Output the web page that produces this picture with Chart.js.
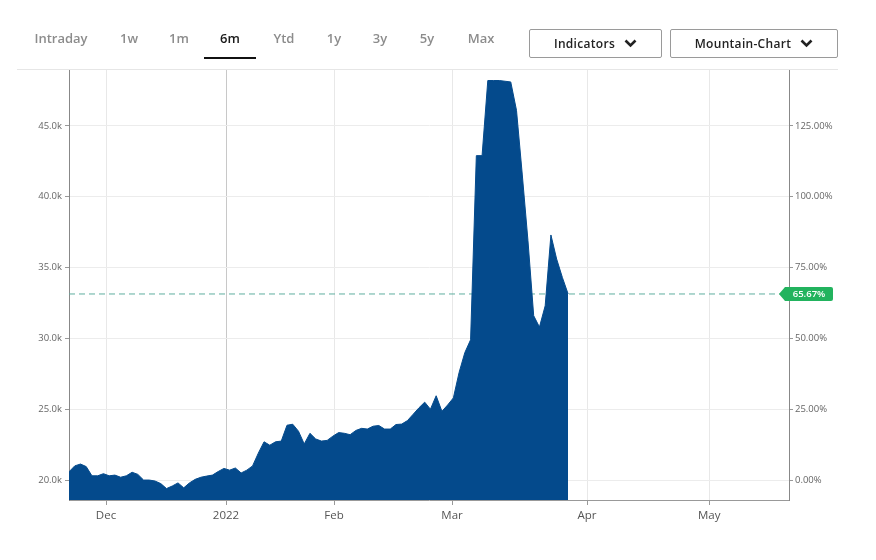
<!DOCTYPE html>
<html>
<head>
<meta charset="utf-8">
<script src="https://cdn.jsdelivr.net/npm/chart.js@4.4.1/dist/chart.umd.min.js"></script>
<style>
    body { margin: 0; background: #fff; font-family: "Open Sans", sans-serif; }
    #wrap { position: relative; width: 876px; height: 560px; overflow: hidden; }
    #chart1 { position: absolute; left: 0; top: 0; }
    .tab { position: absolute; top: 29px; transform: translateX(-50%); font-size: 13px; font-weight: 600; color: #8c8c8c; white-space: nowrap; }
    .tab.active { color: #1a1a1a; }
    #tabLine { position: absolute; left: 204px; top: 57px; width: 52px; height: 2px; background: #111; }
    #sep { position: absolute; left: 17px; top: 69px; width: 821px; height: 1px; background: #e6e6e6; }
    .btn { position: absolute; top: 29px; height: 27px; border: 1px solid #9a9a9a; border-radius: 2px; font-size: 12px; font-weight: 600; color: #222; display: flex; align-items: center; justify-content: center; box-sizing: content-box; letter-spacing: 0.3px; }
    .btn svg { margin-left: 9px; }
</style>
</head>
<body>
<div id="wrap">
    <canvas id="chart1" width="876" height="560"></canvas>
    <span class="tab" style="left:61px">Intraday</span>
    <span class="tab" style="left:129px">1w</span>
    <span class="tab" style="left:179px">1m</span>
    <span class="tab active" style="left:230px">6m</span>
    <span class="tab" style="left:284px">Ytd</span>
    <span class="tab" style="left:334px">1y</span>
    <span class="tab" style="left:380px">3y</span>
    <span class="tab" style="left:427px">5y</span>
    <span class="tab" style="left:481px">Max</span>
    <div id="tabLine"></div>
    <div id="sep"></div>
    <div class="btn" style="left:529px; width:131px;">Indicators
        <svg width="13" height="9" viewBox="0 0 13 9"><polyline points="1.5,1.5 6.5,6.5 11.5,1.5" fill="none" stroke="#222" stroke-width="2.6"/></svg>
    </div>
    <div class="btn" style="left:670px; width:166px;">Mountain-Chart
        <svg width="13" height="9" viewBox="0 0 13 9"><polyline points="1.5,1.5 6.5,6.5 11.5,1.5" fill="none" stroke="#222" stroke-width="2.6"/></svg>
    </div>
</div>
<script>
// daily closes (trading-day index on x)
var priceValues = [20580, 21000, 21130, 20950, 20300, 20300, 20450, 20300, 20350, 20200,
    20300, 20550, 20400, 20000, 20000, 19930, 19750, 19400, 19580, 19800,
    19450, 19800, 20050, 20200, 20280, 20350, 20600, 20820, 20700, 20850,
    20500, 20700, 21000, 21900, 22700, 22460, 22700, 22750, 23870, 23940,
    23450, 22550, 23300, 22900, 22750, 22800, 23100, 23350, 23300, 23200,
    23500, 23650, 23600, 23800, 23850, 23600, 23600, 23920, 23950, 24200,
    24650, 25100, 25500, 25000, 25950, 24850, 25300, 25800, 27600, 29000,
    29900, 42900, 42900, 48200, 48200, 48200, 48150, 48100, 46100, 41600,
    36900, 31600, 30800, 32300, 37300, 35600, 34300, 33134];

var monthLabels = ['Dec', '2022', 'Feb', 'Mar', 'Apr', 'May'];
var monthTickPos = [6.45, 27.37, 46.2, 66.77, 90.3, 111.6];
var xMax = 125.5;

var priceTicks = [20000, 25000, 30000, 35000, 40000, 45000];
var pctTicks = [0, 25, 50, 75, 100, 125];

var basePrice = 20000;      // 0.00% on the right axis
var yMin = 18592;
var yMax = 48944;
var lastPct = '65.67%';

var priceData = priceValues.map(function (v, i) {
    return { x: i, y: v };
});
var lastValue = priceValues[priceValues.length - 1];
var lastLine = [{ x: 0, y: lastValue }, { x: xMax, y: lastValue }];

var pctMin = (yMin / basePrice - 1) * 100;
var pctMax = (yMax / basePrice - 1) * 100;

var lastBadge = {
    id: 'lastBadge',
    afterDraw: function (chart) {
        var c = chart.ctx;
        var y = chart.scales.y.getPixelForValue(lastValue);
        var x = chart.chartArea.right - 10;
        c.save();
        c.fillStyle = '#22b35e';
        c.beginPath();
        c.moveTo(x, y);
        c.lineTo(x + 6, y - 7);
        c.lineTo(x + 52, y - 7);
        c.quadraticCurveTo(x + 54, y - 7, x + 54, y - 5);
        c.lineTo(x + 54, y + 5);
        c.quadraticCurveTo(x + 54, y + 7, x + 52, y + 7);
        c.lineTo(x + 6, y + 7);
        c.closePath();
        c.fill();
        c.fillStyle = '#fff';
        c.font = '600 9.5px "Open Sans"';
        c.textAlign = 'center';
        c.textBaseline = 'middle';
        c.fillText(lastPct, x + 30, y + 0.5);
        c.restore();
    }
};

var ctx1 = document.getElementById('chart1');
var Chart1 = new Chart(ctx1, {
    type: 'line',
    data: {
        datasets: [{
            data: priceData,
            borderColor: '#044a8c',
            backgroundColor: '#044a8c',
            borderWidth: 1,
            pointRadius: 0,
            tension: 0,
            fill: 'start',
        }, {
            data: lastLine,
            borderColor: '#5fae9f',
            borderWidth: 1,
            borderDash: [6, 4],
            pointRadius: 0,
            fill: false,
        }]
    },
    options: {
        responsive: false,
        animation: false,
        layout: { padding: { top: 70, left: 0, right: 0, bottom: 0 } },
        plugins: {
            legend: { display: false },
            tooltip: { enabled: false },
        },
        scales: {
            x: {
                type: 'linear',
                min: 0,
                max: xMax,
                afterBuildTicks: function (axis) {
                    axis.ticks = monthTickPos.map(function (v) { return { value: v }; });
                },
                afterFit: function (axis) { axis.height = 60; },
                ticks: {
                    autoSkip: false,
                    maxRotation: 0,
                    padding: 4,
                    color: '#555',
                    font: { family: 'Open Sans', size: 11.5 },
                    callback: function (value, index) {
                        return monthLabels[index];
                    }
                },
                grid: {
                    color: function (c) {
                        return (c.tick && c.tick.value === monthTickPos[1]) ? '#c8c8c8' : '#e8e8e8';
                    },
                    tickLength: 5,
                    tickColor: '#999',
                },
                border: { color: '#999' },
            },
            y: {
                position: 'left',
                min: yMin,
                max: yMax,
                afterBuildTicks: function (axis) {
                    axis.ticks = priceTicks.map(function (v) { return { value: v }; });
                },
                afterFit: function (axis) { axis.width = 69; },
                ticks: {
                    padding: 3,
                    color: '#666',
                    font: { family: 'Open Sans', size: 9.5 },
                    callback: function (value) {
                        return (value / 1000).toFixed(1) + 'k';
                    }
                },
                grid: { color: '#ececec', tickLength: 4, tickColor: '#999' },
                border: { color: '#888' },
            },
            y2: {
                position: 'right',
                min: pctMin,
                max: pctMax,
                afterBuildTicks: function (axis) {
                    axis.ticks = pctTicks.map(function (v) { return { value: v }; });
                },
                afterFit: function (axis) { axis.width = 87; },
                ticks: {
                    padding: 2,
                    color: '#666',
                    font: { family: 'Open Sans', size: 9.5 },
                    callback: function (value) {
                        return value.toFixed(2) + '%';
                    }
                },
                grid: { drawOnChartArea: false, tickLength: 4, tickColor: '#999' },
                border: { color: '#888' },
            },
        },
    },
    plugins: [lastBadge],
});
</script>
</body>
</html>
